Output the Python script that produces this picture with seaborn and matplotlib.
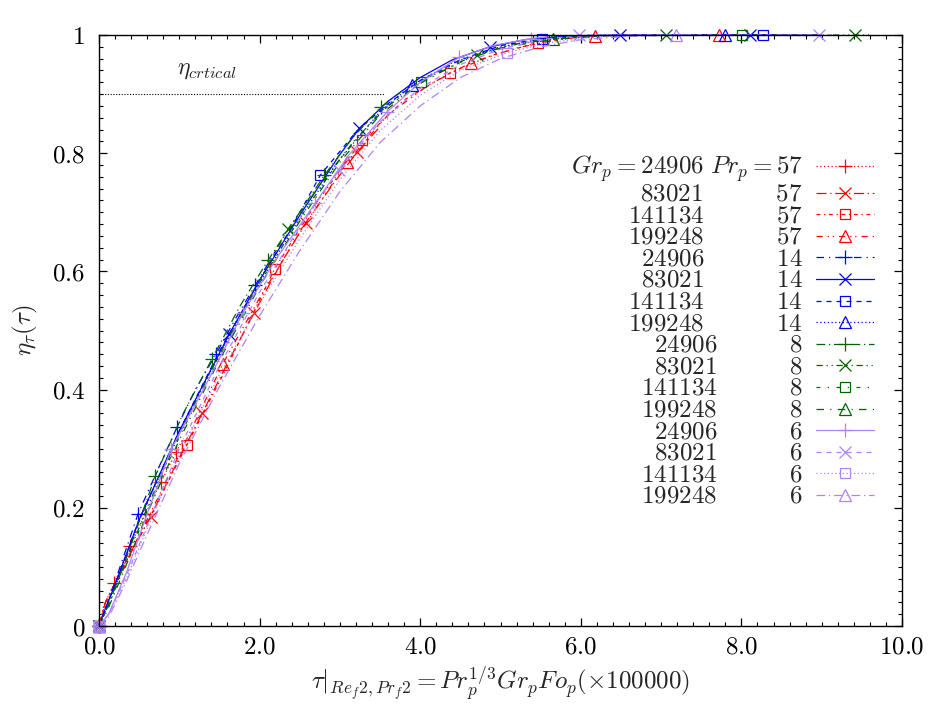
import numpy as np
import pandas as pd
import matplotlib
matplotlib.use("Agg")
import matplotlib.pyplot as plt
from matplotlib.lines import Line2D
from matplotlib.ticker import MultipleLocator, FuncFormatter
import seaborn as sns

# ---------------- data ----------------
GR = [24906, 83021, 141134, 199248]
PR = [57, 14, 8, 6]

# Pr = 57 (red)
r1_x = [0, 0.06, 0.193, 0.386, 0.579, 0.772, 0.965, 1.05]
r1_y = [0, 0.035, 0.072, 0.135, 0.19, 0.244, 0.295, 0.318]
r1_m = [0, 2, 3, 4, 5, 6]
r2_x = [0, 0.08, 0.3, 0.643, 1.0, 1.286, 1.6, 1.929, 2.25, 2.572, 2.9, 3.215, 3.5]
r2_y = [0, 0.04, 0.10, 0.185, 0.285, 0.36, 0.445, 0.529, 0.61, 0.682, 0.745, 0.802, 0.845]
r2_m = [0, 3, 5, 7, 9, 11]
r3_x = [0, 0.08, 0.3, 0.6, 1.093, 1.6, 2.186, 2.7, 3.279, 3.8, 4.372, 4.9, 5.465, 6.0]
r3_y = [0, 0.035, 0.095, 0.175, 0.306, 0.44, 0.604, 0.715, 0.822, 0.89, 0.936, 0.966, 0.987, 0.997]
r3_m = [0, 4, 6, 8, 10, 12]
r4_x = [0, 0.08, 0.3, 0.6, 1.0, 1.543, 2.0, 2.5, 3.086, 3.6, 4.1, 4.629, 5.2, 5.7, 6.172, 7.715, 8.5]
r4_y = [0, 0.04, 0.10, 0.18, 0.29, 0.444, 0.555, 0.665, 0.785, 0.865, 0.915, 0.953, 0.978, 0.992, 0.999, 1.0, 1.0]
r4_m = [0, 5, 8, 11, 14, 15]

# Pr = 14 (blue)
b1_x = [0, 0.08, 0.2, 0.487, 0.75, 0.974, 1.2, 1.461, 1.7, 1.948, 2.2]
b1_y = [0, 0.025, 0.075, 0.19, 0.27, 0.337, 0.40, 0.461, 0.52, 0.577, 0.635]
b1_m = [0, 3, 5, 7, 9]
b2_x = [0, 0.08, 0.2, 0.5, 1.0, 1.622, 2.0, 2.5, 3.0, 3.244, 3.6, 4.0, 4.4, 4.866, 5.3, 5.8, 6.488, 8.11, 9.0]
b2_y = [0, 0.03, 0.07, 0.18, 0.33, 0.494, 0.585, 0.695, 0.798, 0.842, 0.888, 0.928, 0.958, 0.98, 0.992, 0.998, 1.0, 1.0, 1.0]
b2_m = [0, 5, 9, 13, 16, 17]
b3_x = [0, 0.08, 0.2, 0.5, 1.0, 1.5, 2.0, 2.4, 2.757, 3.2, 3.6, 4.0, 4.5, 5.0, 5.514, 6.0, 8.27, 8.5]
b3_y = [0, 0.028, 0.07, 0.18, 0.33, 0.465, 0.585, 0.675, 0.763, 0.836, 0.884, 0.923, 0.958, 0.982, 0.994, 0.999, 1.0, 1.0]
b3_m = [0, 8, 14, 16]
b4_x = [0, 0.08, 0.2, 0.5, 1.0, 1.5, 2.0, 2.5, 3.0, 3.5, 3.894, 4.4, 5.0, 5.6, 6.2, 7.79, 8.0]
b4_y = [0, 0.028, 0.07, 0.178, 0.328, 0.46, 0.58, 0.69, 0.79, 0.87, 0.915, 0.953, 0.98, 0.995, 1.0, 1.0, 1.0]
b4_m = [0, 10, 15]

# Pr = 8 (green)
g1_x = [0, 0.1, 0.3, 0.702, 1.05, 1.404, 1.75, 2.106, 2.45, 2.808, 3.15, 3.51, 3.8]
g1_y = [0, 0.03, 0.10, 0.254, 0.36, 0.451, 0.54, 0.619, 0.69, 0.763, 0.825, 0.878, 0.908]
g1_m = [0, 3, 5, 7, 9, 11]
g2_x = [0, 0.1, 0.3, 0.6, 1.0, 1.5, 2.0, 2.355, 2.8, 3.2, 3.6, 4.1, 4.71, 5.2, 5.8, 6.4, 7.065, 9.42, 9.6]
g2_y = [0, 0.03, 0.10, 0.2, 0.325, 0.46, 0.585, 0.672, 0.755, 0.825, 0.88, 0.928, 0.967, 0.985, 0.995, 0.999, 1.0, 1.0, 1.0]
g2_m = [0, 7, 12, 16, 17]
g3_x = [0, 0.1, 0.3, 0.6, 1.0, 1.5, 2.0, 2.5, 3.0, 3.5, 4.005, 4.5, 5.0, 5.5, 6.0, 8.01, 8.2]
g3_y = [0, 0.028, 0.095, 0.195, 0.32, 0.455, 0.58, 0.69, 0.79, 0.87, 0.921, 0.956, 0.979, 0.992, 0.998, 1.0, 1.0]
g3_m = [0, 10, 15]
g4_x = [0, 0.1, 0.3, 0.6, 1.0, 1.5, 2.0, 2.5, 3.0, 3.5, 4.0, 4.5, 5.0, 5.66, 6.5]
g4_y = [0, 0.025, 0.09, 0.19, 0.315, 0.45, 0.575, 0.685, 0.785, 0.865, 0.918, 0.955, 0.978, 0.993, 1.0]
g4_m = [0, 13]

# Pr = 6 (purple)
p1_x = [0, 0.12, 0.34, 0.6, 0.897, 1.3, 1.794, 2.2, 2.691, 3.1, 3.588, 4.0, 4.485, 4.9, 5.382, 5.6]
p1_y = [0, 0.02, 0.09, 0.19, 0.299, 0.40, 0.530, 0.62, 0.715, 0.795, 0.87, 0.92, 0.962, 0.982, 0.994, 0.997]
p1_m = [0, 4, 6, 8, 10, 12, 14]
p2_x = [0, 0.12, 0.34, 0.6, 1.0, 1.5, 2.0, 2.5, 2.99, 3.5, 4.0, 4.5, 5.0, 5.5, 5.98, 8.97, 9.2]
p2_y = [0, 0.02, 0.085, 0.17, 0.30, 0.44, 0.565, 0.675, 0.772, 0.853, 0.91, 0.95, 0.976, 0.992, 1.0, 1.0, 1.0]
p2_m = [0, 8, 14, 15]
p3_x = [0, 0.12, 0.34, 0.6, 1.0, 1.5, 2.0, 2.5, 3.0, 3.5, 4.0, 4.5, 5.08, 5.6, 6.2, 7.0]
p3_y = [0, 0.02, 0.08, 0.165, 0.29, 0.425, 0.545, 0.655, 0.755, 0.838, 0.898, 0.94, 0.97, 0.987, 0.997, 1.0]
p3_m = [0, 12]
p4_x = [0, 0.12, 0.34, 0.6, 1.0, 1.5, 2.0, 2.5, 3.0, 3.5, 4.0, 4.5, 5.0, 5.5, 6.0, 6.6, 7.18, 7.5]
p4_y = [0, 0.015, 0.075, 0.155, 0.275, 0.405, 0.525, 0.635, 0.735, 0.818, 0.88, 0.928, 0.96, 0.98, 0.992, 0.998, 1.0, 1.0]
p4_m = [0, 16]

ETA_CRIT = 0.9
CRIT_LINE_END = 3.56

# ---------------- styling ----------------
COLORS = {57: "#ff0000", 14: "#0000ff", 8: "#006400", 6: "#b080ff"}
MARKERS = ["+", "x", "s", "^"]
MSIZE = {"+": 10, "x": 8.5, "s": 7.5, "^": 8}
DASHES = {
    (57, 0): (0, (1, 2)),
    (57, 1): (0, (8, 3, 1, 3)),
    (57, 2): (0, (3, 3, 1, 3)),
    (57, 3): (0, (5, 4, 1, 3, 1, 4)),
    (14, 0): (0, (6, 4, 1, 4)),
    (14, 1): "-",
    (14, 2): (0, (4, 4)),
    (14, 3): (0, (1, 2)),
    (8, 0): (0, (7, 3, 1, 3)),
    (8, 1): (0, (5, 3, 1, 3, 1, 3)),
    (8, 2): (0, (3, 6, 1, 6)),
    (8, 3): (0, (6, 5, 1, 5)),
    (6, 0): "-",
    (6, 1): (0, (4, 4)),
    (6, 2): (0, (1, 2)),
    (6, 3): (0, (7, 3, 1, 3)),
}

series = [
    (57, 0, r1_x, r1_y, r1_m), (57, 1, r2_x, r2_y, r2_m), (57, 2, r3_x, r3_y, r3_m), (57, 3, r4_x, r4_y, r4_m),
    (14, 0, b1_x, b1_y, b1_m), (14, 1, b2_x, b2_y, b2_m), (14, 2, b3_x, b3_y, b3_m), (14, 3, b4_x, b4_y, b4_m),
    (8, 0, g1_x, g1_y, g1_m), (8, 1, g2_x, g2_y, g2_m), (8, 2, g3_x, g3_y, g3_m), (8, 3, g4_x, g4_y, g4_m),
    (6, 0, p1_x, p1_y, p1_m), (6, 1, p2_x, p2_y, p2_m), (6, 2, p3_x, p3_y, p3_m), (6, 3, p4_x, p4_y, p4_m),
]

sns.set_theme(style="ticks")
FS = 18
plt.rcParams.update({
    "font.family": ["DejaVu Serif"],
    "mathtext.fontset": "cm",
    "font.size": FS,
    "axes.linewidth": 1.0,
    "axes.edgecolor": "black",
    "xtick.direction": "in",
    "ytick.direction": "in",
    "xtick.top": True,
    "ytick.right": True,
    "xtick.color": "black",
    "ytick.color": "black",
})

fig = plt.figure(figsize=(9.47, 7.13), dpi=100)
ax = fig.add_axes([99 / 947, (713 - 626) / 713, (902 - 99) / 947, (626 - 35) / 713])

# measure spacing so that the Gr column lines up (gnuplot-style key)
renderer = fig.canvas.get_renderer()
def _ext(s):
    t = fig.text(0, 0, s, fontsize=FS)
    e = t.get_window_extent(renderer)
    t.remove()
    return e
gap_px = _ext(r"$Gr_p = 24906\ Pr_p = 57$").width - _ext(r"$Gr_p = 2490657$").width
m_px = (_ext(r"$0\hspace{10}0$").width - _ext(r"$00$").width) / 10.0
gap_m = gap_px / m_px
row_h = _ext(r"$83021\hspace{3}57$").height
fs_px = FS * 100 / 72.0
ROW_PITCH = 21.6
lab_sp = (ROW_PITCH - row_h) / fs_px

handles, labels = [], []
for pr, gi, xs, ys, mk in series:
    df = pd.DataFrame({"x": xs, "y": ys})
    c = COLORS[pr]
    m = MARKERS[gi]
    ls = DASHES[(pr, gi)]
    sns.lineplot(data=df, x="x", y="y", ax=ax, color=c, linestyle=ls, lw=0.9,
                 marker=m, markevery=mk, markersize=MSIZE[m], markerfacecolor="none",
                 markeredgecolor=c, markeredgewidth=0.9, sort=False, estimator=None,
                 clip_on=False, legend=False)
    handles.append(Line2D([], [], color=c, linestyle=ls, lw=0.9, marker=m,
                          markersize=MSIZE[m], markerfacecolor="none",
                          markeredgecolor=c, markeredgewidth=0.9))
    if pr == 57 and gi == 0:
        labels.append(r"$Gr_p = %d\ Pr_p = %d$" % (GR[gi], pr))
    else:
        labels.append(r"$%d\hspace{%.3f}%d$" % (GR[gi], gap_m, pr))

# critical line
crit = pd.DataFrame({"x": [0, CRIT_LINE_END], "y": [ETA_CRIT, ETA_CRIT]})
sns.lineplot(data=crit, x="x", y="y", ax=ax, color="black", lw=0.8,
             linestyle=(0, (1, 1.5)), legend=False)
ax.text(0.97, 0.942, r"$\eta_{crtical}$", fontsize=FS - 1, ha="left", va="center")

ax.set_xlim(0, 10)
ax.set_ylim(0, 1)
ax.xaxis.set_major_locator(MultipleLocator(2))
ax.xaxis.set_minor_locator(MultipleLocator(0.2))
ax.yaxis.set_major_locator(MultipleLocator(0.2))
ax.yaxis.set_minor_locator(MultipleLocator(0.02))
ax.xaxis.set_major_formatter(FuncFormatter(lambda v, p: r"$%.1f$" % v))
ax.yaxis.set_major_formatter(FuncFormatter(
    lambda v, p: r"$%d$" % round(v) if abs(v - round(v)) < 1e-9 else r"$%.1f$" % v))
ax.tick_params(which="major", length=6, width=0.9, labelsize=FS, pad=7)
ax.tick_params(which="minor", length=3, width=0.8)
ax.tick_params(axis="y", pad=10)

ax.set_xlabel(r"$\tau|_{Re_f2,Pr_f2} = Pr_p^{1/3}Gr_pFo_p(\times 100000)$", fontsize=FS, labelpad=4)
ax.set_ylabel(r"$\eta_\tau(\tau)$", fontsize=FS)
ax.yaxis.set_label_coords(-0.074, 0.5)
for s in ax.spines.values():
    s.set_visible(True)
    s.set_color("black")
ax.set_facecolor("white")

leg = ax.legend(handles, labels, loc="upper right", bbox_to_anchor=(0.965, 0.800),
                markerfirst=False, frameon=False, numpoints=1, handlelength=2.3,
                handletextpad=0.55, labelspacing=lab_sp, borderpad=0, borderaxespad=0,
                handleheight=0.5, fontsize=FS)

fig.savefig("out.png", dpi=100, facecolor="white")
